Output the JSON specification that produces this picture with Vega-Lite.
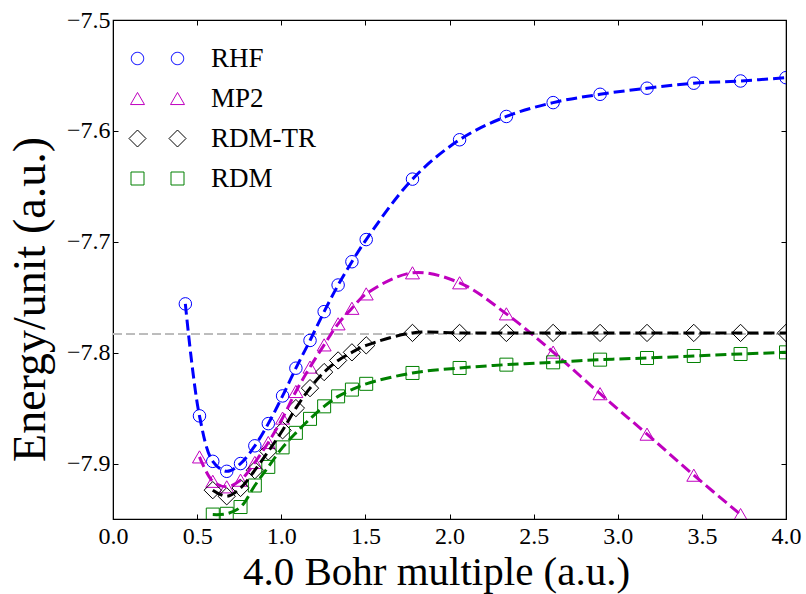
{
  "$schema": "https://vega.github.io/schema/vega-lite/v6.json",
  "width": 673,
  "height": 499,
  "autosize": "none",
  "padding": {"left": 113, "top": 20, "right": 20, "bottom": 75},
  "background": "white",
  "config": {
    "font": "Liberation Serif, Times New Roman, serif",
    "view": {"stroke": "black", "strokeWidth": 1.2},
    "axis": {
      "grid": false,
      "domainColor": "black",
      "tickColor": "black",
      "labelColor": "black",
      "titleColor": "black",
      "labelFont": "Liberation Serif, Times New Roman, serif",
      "titleFont": "Liberation Serif, Times New Roman, serif",
      "labelFontSize": 24,
      "titleFontSize": 43,
      "titleFontWeight": "normal",
      "tickSize": -5,
      "tickWidth": 1
    },
    "legend": {
      "labelFont": "Liberation Serif, Times New Roman, serif",
      "labelFontSize": 27,
      "labelColor": "black"
    }
  },
  "datasets": {
    "d": [
      {"method": "RHF", "x": 0.430, "y": -7.756},
      {"method": "RHF", "x": 0.514, "y": -7.857},
      {"method": "RHF", "x": 0.593, "y": -7.898},
      {"method": "RHF", "x": 0.676, "y": -7.907},
      {"method": "RHF", "x": 0.758, "y": -7.900},
      {"method": "RHF", "x": 0.843, "y": -7.884},
      {"method": "RHF", "x": 0.923, "y": -7.864},
      {"method": "RHF", "x": 1.008, "y": -7.839},
      {"method": "RHF", "x": 1.087, "y": -7.814},
      {"method": "RHF", "x": 1.171, "y": -7.789},
      {"method": "RHF", "x": 1.255, "y": -7.763},
      {"method": "RHF", "x": 1.338, "y": -7.739},
      {"method": "RHF", "x": 1.420, "y": -7.718},
      {"method": "RHF", "x": 1.505, "y": -7.698},
      {"method": "RHF", "x": 1.780, "y": -7.6435},
      {"method": "RHF", "x": 2.060, "y": -7.608},
      {"method": "RHF", "x": 2.338, "y": -7.587},
      {"method": "RHF", "x": 2.616, "y": -7.5745},
      {"method": "RHF", "x": 2.895, "y": -7.567},
      {"method": "RHF", "x": 3.174, "y": -7.5615},
      {"method": "RHF", "x": 3.452, "y": -7.557},
      {"method": "RHF", "x": 3.730, "y": -7.555},
      {"method": "RHF", "x": 4.000, "y": -7.552},
      {"method": "MP2", "x": 0.514, "y": -7.894},
      {"method": "MP2", "x": 0.593, "y": -7.916},
      {"method": "MP2", "x": 0.676, "y": -7.921},
      {"method": "MP2", "x": 0.758, "y": -7.915},
      {"method": "MP2", "x": 0.843, "y": -7.899},
      {"method": "MP2", "x": 0.923, "y": -7.881},
      {"method": "MP2", "x": 1.008, "y": -7.859},
      {"method": "MP2", "x": 1.087, "y": -7.835},
      {"method": "MP2", "x": 1.171, "y": -7.813},
      {"method": "MP2", "x": 1.255, "y": -7.793},
      {"method": "MP2", "x": 1.338, "y": -7.774},
      {"method": "MP2", "x": 1.420, "y": -7.760},
      {"method": "MP2", "x": 1.505, "y": -7.747},
      {"method": "MP2", "x": 1.780, "y": -7.728},
      {"method": "MP2", "x": 2.060, "y": -7.737},
      {"method": "MP2", "x": 2.338, "y": -7.765},
      {"method": "MP2", "x": 2.616, "y": -7.7995},
      {"method": "MP2", "x": 2.895, "y": -7.837},
      {"method": "MP2", "x": 3.174, "y": -7.8735},
      {"method": "MP2", "x": 3.452, "y": -7.9105},
      {"method": "MP2", "x": 3.730, "y": -7.946},
      {"method": "RDM-TR", "x": 0.593, "y": -7.924},
      {"method": "RDM-TR", "x": 0.676, "y": -7.9295},
      {"method": "RDM-TR", "x": 0.758, "y": -7.922},
      {"method": "RDM-TR", "x": 0.843, "y": -7.906},
      {"method": "RDM-TR", "x": 0.923, "y": -7.889},
      {"method": "RDM-TR", "x": 1.008, "y": -7.870},
      {"method": "RDM-TR", "x": 1.087, "y": -7.850},
      {"method": "RDM-TR", "x": 1.171, "y": -7.832},
      {"method": "RDM-TR", "x": 1.255, "y": -7.8175},
      {"method": "RDM-TR", "x": 1.338, "y": -7.807},
      {"method": "RDM-TR", "x": 1.420, "y": -7.7997},
      {"method": "RDM-TR", "x": 1.505, "y": -7.7934},
      {"method": "RDM-TR", "x": 1.780, "y": -7.7822},
      {"method": "RDM-TR", "x": 2.060, "y": -7.7822},
      {"method": "RDM-TR", "x": 2.338, "y": -7.7822},
      {"method": "RDM-TR", "x": 2.616, "y": -7.7822},
      {"method": "RDM-TR", "x": 2.895, "y": -7.7822},
      {"method": "RDM-TR", "x": 3.174, "y": -7.7822},
      {"method": "RDM-TR", "x": 3.452, "y": -7.7822},
      {"method": "RDM-TR", "x": 3.730, "y": -7.7822},
      {"method": "RDM-TR", "x": 4.000, "y": -7.7822},
      {"method": "RDM", "x": 0.593, "y": -7.946},
      {"method": "RDM", "x": 0.676, "y": -7.9453},
      {"method": "RDM", "x": 0.758, "y": -7.9392},
      {"method": "RDM", "x": 0.843, "y": -7.9198},
      {"method": "RDM", "x": 0.923, "y": -7.903},
      {"method": "RDM", "x": 1.008, "y": -7.8854},
      {"method": "RDM", "x": 1.087, "y": -7.8723},
      {"method": "RDM", "x": 1.171, "y": -7.8597},
      {"method": "RDM", "x": 1.255, "y": -7.8484},
      {"method": "RDM", "x": 1.338, "y": -7.8394},
      {"method": "RDM", "x": 1.420, "y": -7.8333},
      {"method": "RDM", "x": 1.505, "y": -7.8281},
      {"method": "RDM", "x": 1.780, "y": -7.8183},
      {"method": "RDM", "x": 2.060, "y": -7.8138},
      {"method": "RDM", "x": 2.338, "y": -7.8108},
      {"method": "RDM", "x": 2.616, "y": -7.8087},
      {"method": "RDM", "x": 2.895, "y": -7.8063},
      {"method": "RDM", "x": 3.174, "y": -7.8048},
      {"method": "RDM", "x": 3.452, "y": -7.803},
      {"method": "RDM", "x": 3.730, "y": -7.8012},
      {"method": "RDM", "x": 4.000, "y": -7.7997}
    ]
  },
  "resolve": {"axis": {"x": "independent", "y": "independent"}},
  "layer": [
    {
      "data": {"name": "d"},
      "mark": {"type": "rule", "color": "#bdbdbd", "strokeWidth": 1.3, "strokeDash": [9, 4], "clip": true},
      "encoding": {
        "x": {
          "datum": 0, "type": "quantitative",
          "scale": {"domain": [0, 4], "nice": false, "zero": false},
          "axis": {"orient": "bottom", "title": "4.0 Bohr multiple (a.u.)", "values": [0, 0.5, 1, 1.5, 2, 2.5, 3, 3.5, 4], "format": ".1f", "labelPadding": 10, "labelFlush": false, "titleX": 323, "titleY": 65, "titleBaseline": "alphabetic", "titleFontSize": 41}
        },
        "x2": {"datum": 4},
        "y": {
          "datum": -7.7829, "type": "quantitative",
          "scale": {"domain": [-7.95, -7.5], "nice": false, "zero": false},
          "axis": {"orient": "left", "title": "Energy/unit (a.u.)", "values": [-7.9, -7.8, -7.7, -7.6, -7.5], "format": ".1f", "labelPadding": 8, "labelFlush": false, "titleX": -83, "titleY": 279, "titleBaseline": "middle", "titleFontSize": 46}
        }
      }
    },
    {
      "data": {"name": "d"},
      "transform": [{"filter": "datum.x > 100"}],
      "mark": {"type": "point", "filled": false, "strokeWidth": 1, "opacity": 1},
      "encoding": {
        "x": {"field": "x", "type": "quantitative", "axis": null},
        "y": {"field": "y", "type": "quantitative", "axis": null},
        "color": {
          "field": "method", "type": "nominal",
          "scale": {"domain": ["RHF", "MP2", "RDM-TR", "RDM"], "range": ["#0000ff", "#bf00bf", "#000000", "#008000"]},
          "legend": {
            "title": null, "orient": "none", "legendX": 31, "legendY": 25, "padding": 0,
            "labelOffset": 40, "rowPadding": 12, "symbolSize": 4, "symbolStrokeWidth": 1,
            "symbolOpacity": 1, "symbolFillColor": "transparent"
          }
        },
        "shape": {
          "field": "method", "type": "nominal",
          "scale": {
            "domain": ["RHF", "MP2", "RDM-TR", "RDM"],
            "range": [
              "M-13.8,0A6.2,6.2,0,1,1,-26.2,0A6.2,6.2,0,1,1,-13.8,0ZM26.2,0A6.2,6.2,0,1,1,13.8,0A6.2,6.2,0,1,1,26.2,0Z",
              "M-20,-6.06L-27,6.06L-13,6.06ZM20,-6.06L13,6.06L27,6.06Z",
              "M-28.5,0L-20,-8.5L-11.5,0L-20,8.5ZM11.5,0L20,-8.5L28.5,0L20,8.5Z",
              "M-26.5,-6.5L-13.5,-6.5L-13.5,6.5L-26.5,6.5ZM13.5,-6.5L26.5,-6.5L26.5,6.5L13.5,6.5Z"
            ]
          },
          "legend": {
            "title": null, "orient": "none", "legendX": 31, "legendY": 25, "padding": 0,
            "labelOffset": 40, "rowPadding": 12, "symbolSize": 4, "symbolStrokeWidth": 1,
            "symbolOpacity": 1, "symbolFillColor": "transparent"
          }
        }
      }
    },
    {
      "data": {"name": "d"},
      "transform": [{"filter": "datum.method === 'RHF'"}],
      "mark": {"type": "point", "shape": "circle", "size": 156, "filled": false, "strokeWidth": 1, "clip": true, "opacity": 1},
      "encoding": {
        "x": {"field": "x", "type": "quantitative", "axis": null},
        "y": {"field": "y", "type": "quantitative", "axis": null},
        "color": {"field": "method", "type": "nominal", "legend": null}
      }
    },
    {
      "data": {"name": "d"},
      "transform": [{"filter": "datum.method === 'MP2'"}],
      "mark": {"type": "point", "shape": "triangle-up", "size": 196, "filled": false, "strokeWidth": 1, "clip": true, "opacity": 1},
      "encoding": {
        "x": {"field": "x", "type": "quantitative", "axis": null},
        "y": {"field": "y", "type": "quantitative", "axis": null},
        "color": {"field": "method", "type": "nominal", "legend": null}
      }
    },
    {
      "data": {"name": "d"},
      "transform": [{"filter": "datum.method === 'RDM-TR'"}],
      "mark": {"type": "point", "shape": "diamond", "size": 300, "filled": false, "strokeWidth": 1, "clip": true, "opacity": 1},
      "encoding": {
        "x": {"field": "x", "type": "quantitative", "axis": null},
        "y": {"field": "y", "type": "quantitative", "axis": null},
        "color": {"field": "method", "type": "nominal", "legend": null}
      }
    },
    {
      "data": {"name": "d"},
      "transform": [{"filter": "datum.method === 'RDM'"}],
      "mark": {"type": "point", "shape": "square", "size": 169, "filled": false, "strokeWidth": 1, "clip": true, "opacity": 1},
      "encoding": {
        "x": {"field": "x", "type": "quantitative", "axis": null},
        "y": {"field": "y", "type": "quantitative", "axis": null},
        "color": {"field": "method", "type": "nominal", "legend": null}
      }
    },
    {
      "data": {"name": "d"},
      "mark": {"type": "line", "interpolate": "catmull-rom", "strokeWidth": 3, "strokeDash": [11, 5], "clip": true},
      "encoding": {
        "x": {"field": "x", "type": "quantitative", "axis": null},
        "y": {"field": "y", "type": "quantitative", "axis": null},
        "color": {"field": "method", "type": "nominal", "legend": null},
        "detail": {"field": "method"}
      }
    },
    {
      "data": {"name": "d"},
      "mark": {"type": "point", "opacity": 0},
      "encoding": {
        "x": {"field": "x", "type": "quantitative", "axis": {"orient": "top", "title": null, "labels": false, "values": [0, 0.5, 1, 1.5, 2, 2.5, 3, 3.5, 4]}},
        "y": {"field": "y", "type": "quantitative", "axis": {"orient": "right", "title": null, "labels": false, "values": [-7.9, -7.8, -7.7, -7.6, -7.5]}}
      }
    }
  ]
}
